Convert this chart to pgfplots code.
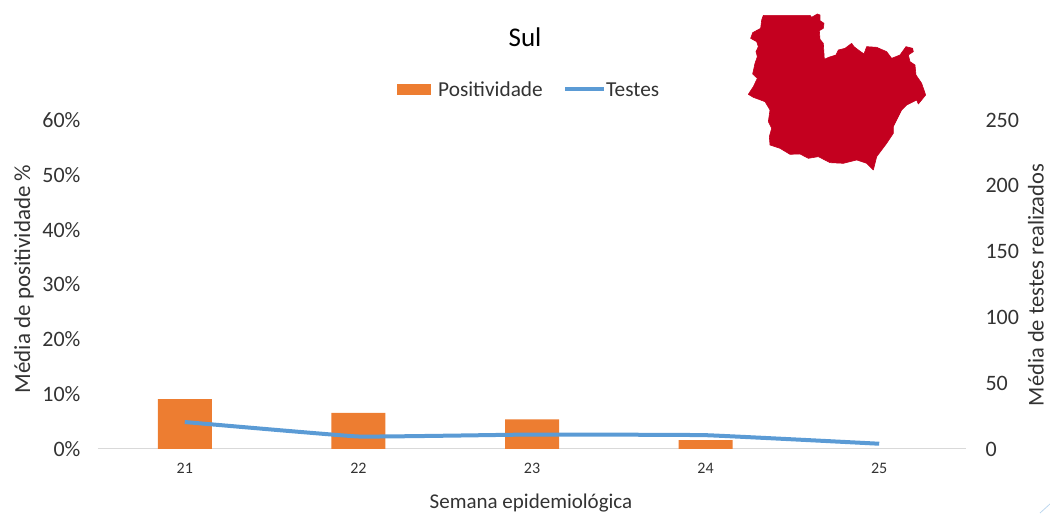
\documentclass[border=0pt]{standalone}
\usepackage{pgfplots}
\pgfplotsset{compat=1.18}
\usepackage{fontspec}
\setmainfont{Carlito}
\definecolor{barorange}{HTML}{ED7D31}
\definecolor{lineblue}{HTML}{5B9BD5}
\definecolor{mapred}{HTML}{C4001F}
\definecolor{txt}{HTML}{333333}
\definecolor{axisgray}{HTML}{D9D9D9}
\pgfplotstableread{
x pos
0 9.1
1 6.6
2 5.4
3 1.6
}\positividade
\pgfplotstableread{
x testes
0 20.5
1 9.5
2 11
3 10.5
4 4
}\testes
\begin{document}
\begin{tikzpicture}[x=1pt,y=1pt]
\path[use as bounding box] (0,0) rectangle (1050,516);
\begin{axis}[
  at={(98pt,67pt)},anchor=south west,
  scale only axis,width=868pt,height=329pt,
  xmin=-0.5,xmax=4.5,ymin=0,ymax=60,
  axis y line*=left,axis x line*=bottom,
  y axis line style={draw=none},
  x axis line style={axisgray,line width=1pt},
  xtick={0,1,2,3,4},xticklabels={21,22,23,24,25},
  extra x ticks={-0.5,0.5,1.5,2.5,3.5,4.5},
  extra x tick labels={},
  extra x tick style={tick style={axisgray,line width=0.8pt},major tick length=5pt,tickwidth=5pt,
    xtick align=outside},
  major x tick style={draw=none},
  ytick={0,10,20,30,40,50,60},
  yticklabels={0\%,10\%,20\%,30\%,40\%,50\%,60\%},
  major y tick style={draw=none},
  x tick label style={font=\fontsize{16}{17}\selectfont,text=txt,yshift=-11pt},
  y tick label style={font=\fontsize{22}{24}\selectfont,text=txt,xshift=-14pt},
]
\addplot[ybar,bar width=54pt,fill=barorange,draw=none,bar shift=0pt] table[x=x,y=pos]{\positividade};
\end{axis}
\begin{axis}[
  at={(98pt,67pt)},anchor=south west,
  scale only axis,width=868pt,height=329pt,
  xmin=-0.5,xmax=4.5,ymin=0,ymax=250,
  axis y line*=right,axis x line=none,
  y axis line style={draw=none},
  ytick={0,50,100,150,200,250},
  major y tick style={draw=none},
  y tick label style={font=\fontsize{22}{24}\selectfont,text=txt,xshift=16pt,
    /pgf/number format/assume math mode=true},
]
\addplot[lineblue,line width=4pt,smooth,tension=0.15] table[x=x,y=testes]{\testes};
\end{axis}
% map
\begin{scope}[shift={(730,516)},x=0.3333pt,y=-0.3333pt]
\fill[mapred,draw=mapred,line width=0.6pt,line join=round] (100,46)--(240,46)--(245,52)--(262,42)--(270,45)--(270,62)--(282,70)--(280,85)--(268,92)--(270,118)--(280,130)--(283,178)--(296,172)--(318,165)--(325,150)--(345,145)--(365,130)--(372,140)--(385,150)--(402,162)--(410,140)--(440,142)--(470,155)--(485,175)--(510,165)--(528,140)--(548,145)--(550,155)--(535,165)--(540,185)--(555,195)--(558,225)--(575,250)--(587,285)--(575,300)--(565,312)--(560,300)--(530,315)--(515,330)--(505,350)--(490,380)--(490,400)--(470,430)--(440,470)--(430,510)--(410,490)--(380,480)--(340,490)--(300,488)--(265,470)--(235,475)--(210,462)--(180,463)--(150,445)--(120,435)--(118,410)--(125,385)--(115,365)--(120,330)--(105,305)--(70,292)--(55,283)--(70,260)--(82,235)--(68,222)--(75,190)--(82,170)--(78,155)--(85,140)--(80,125)--(62,115)--(68,98)--(92,85)--(95,60)--cycle;
\end{scope}
% texts
\node[text=black,font=\fontsize{27}{30}\selectfont] at (525,479) {Sul};
\node[text=txt,font=\fontsize{21}{24}\selectfont] at (531,13) {Semana epidemiológica};
\node[text=txt,font=\fontsize{23}{26}\selectfont,rotate=90,inner sep=0pt] at (24,237) {Média de positividade \%};
\node[text=txt,font=\fontsize{22.5}{26}\selectfont,rotate=90,inner sep=0pt] at (1036,231) {Média de testes realizados};
% legend
\fill[barorange] (397,421) rectangle (431,432);
\node[text=txt,font=\fontsize{21.3}{24}\selectfont,anchor=west,inner sep=0pt] at (438,426.5) {Positividade};
\draw[lineblue,line width=4pt] (565,426.5)--(604,426.5);
\node[text=txt,font=\fontsize{21.3}{24}\selectfont,anchor=west,inner sep=0pt] at (606,426.5) {Testes};
\draw[lineblue!40,line width=0.8pt] (1040,3)--(1050,12);
\end{tikzpicture}
\end{document}
